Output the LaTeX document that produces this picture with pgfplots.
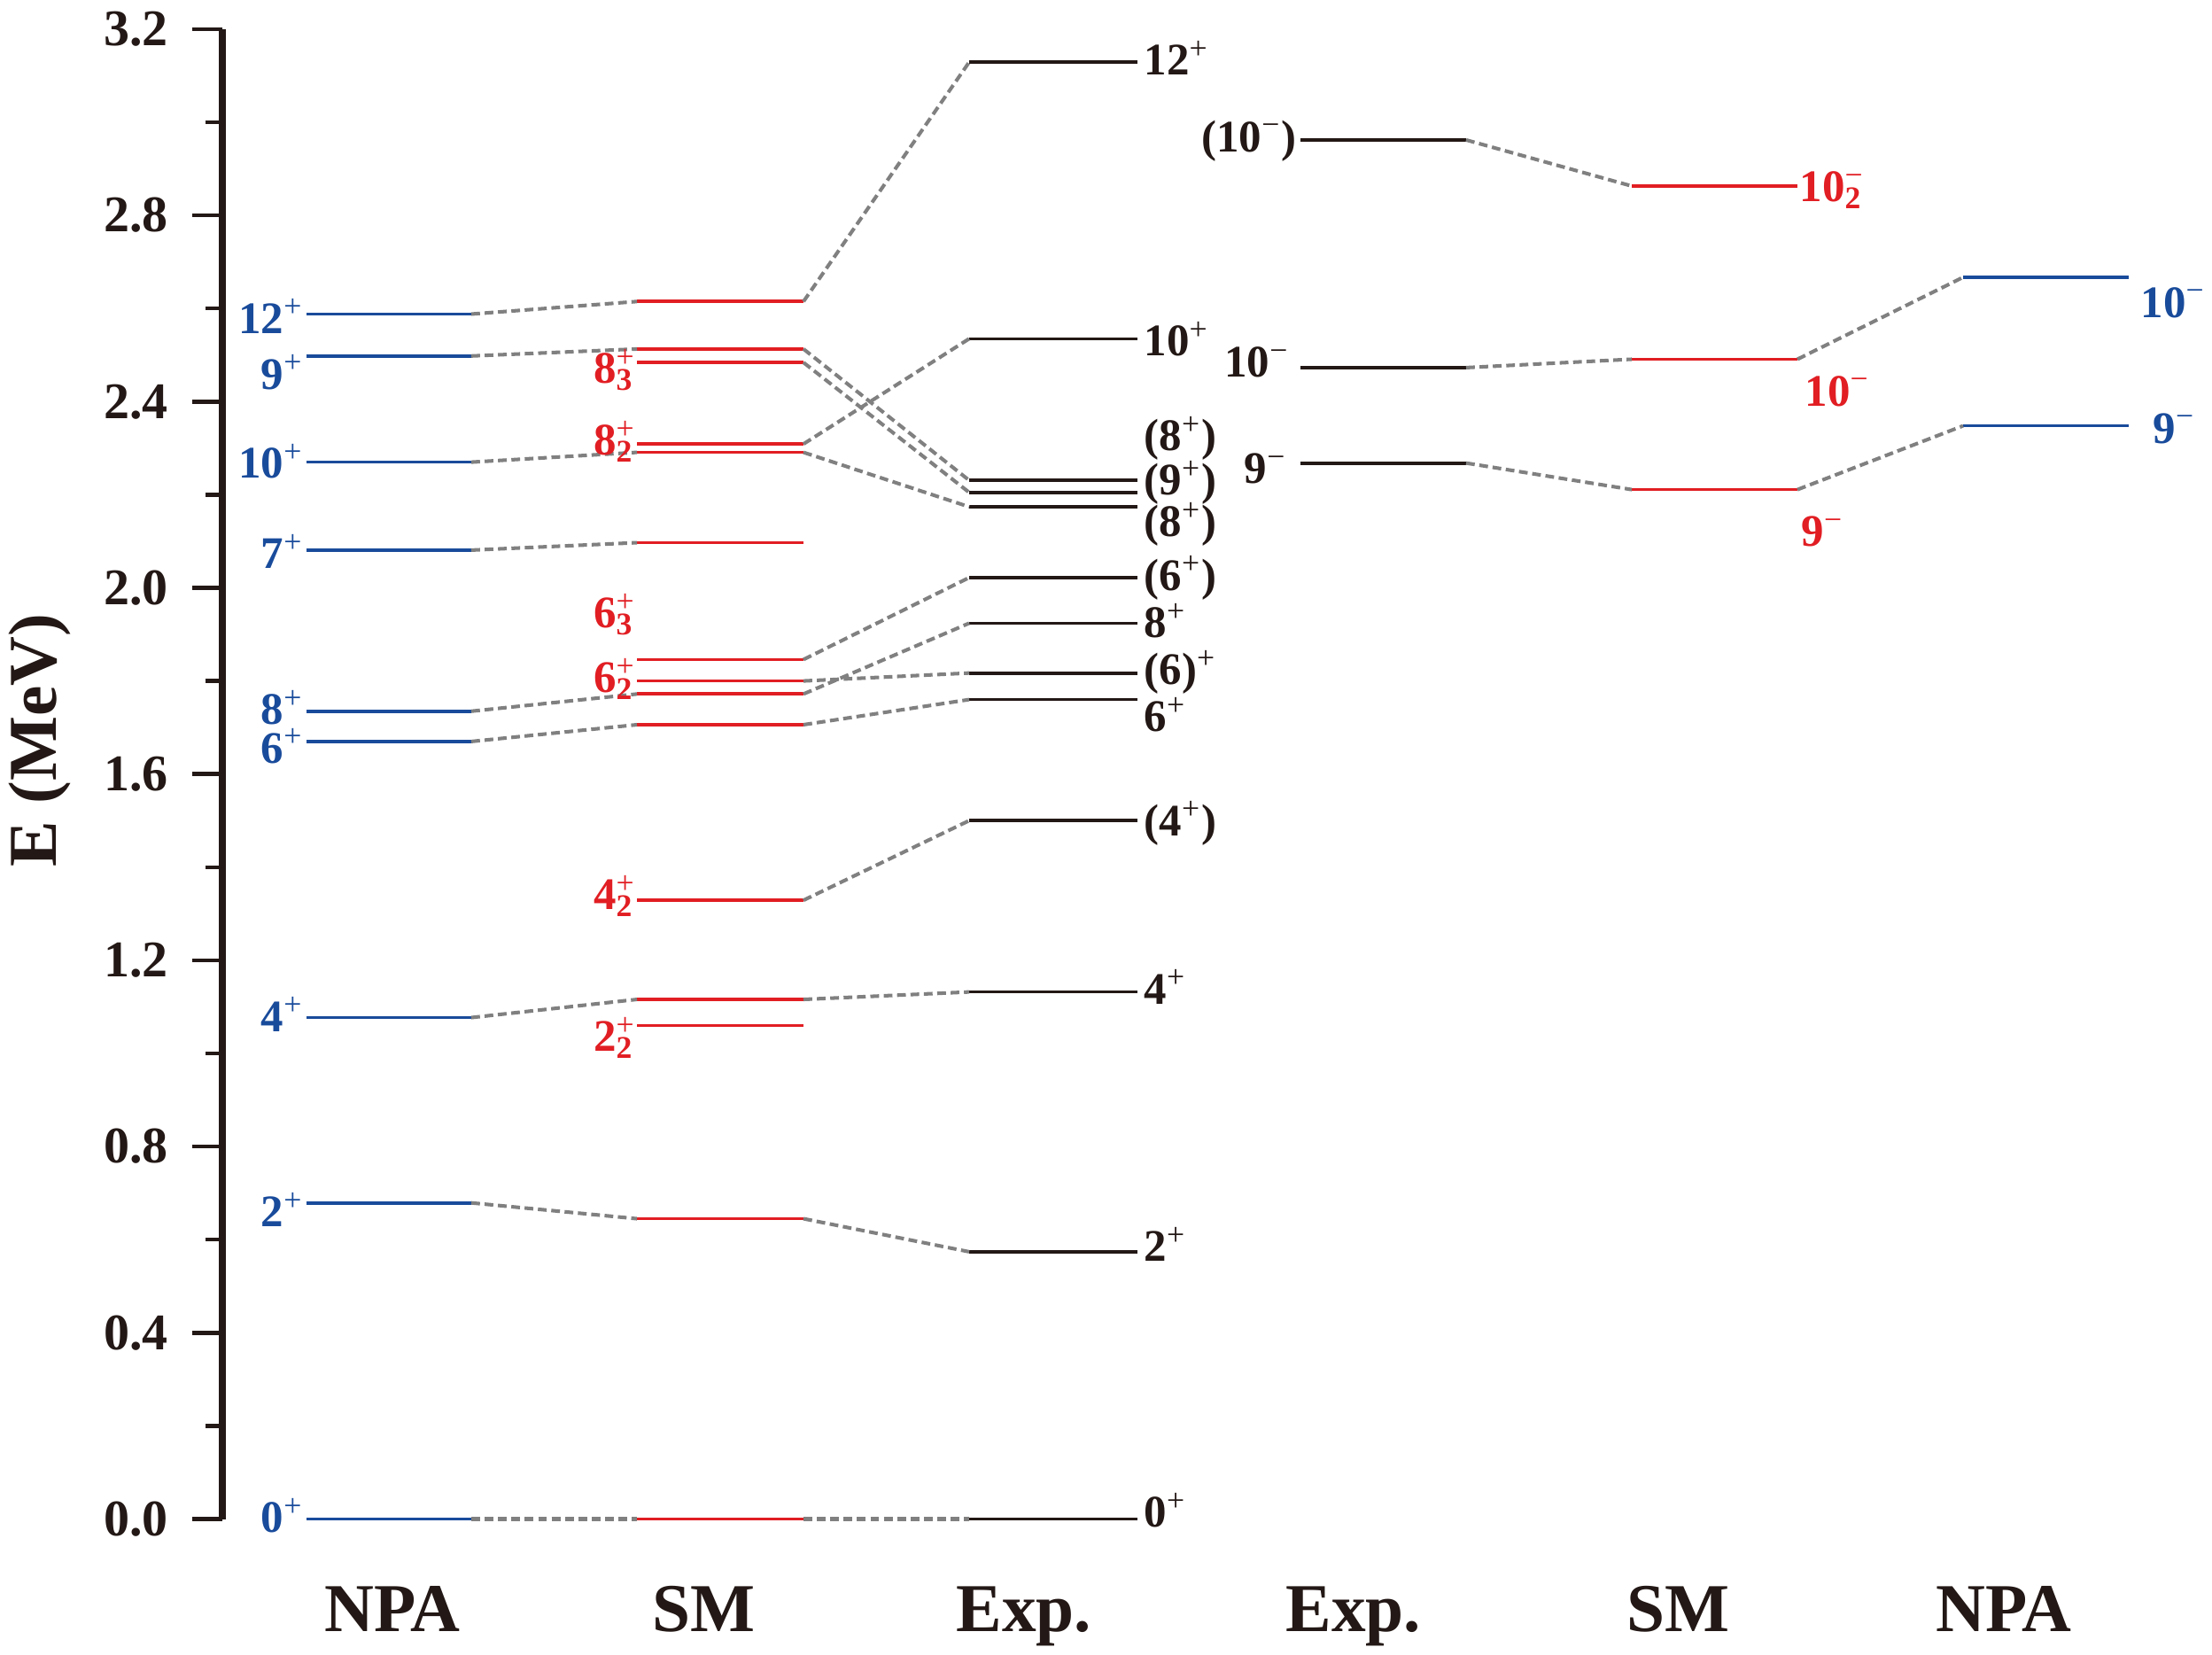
\documentclass[border=0pt]{standalone}
\usepackage{pgfplots}
\pgfplotsset{compat=1.18}
\usepackage{fontspec}
\setmainfont{Liberation Serif}
\definecolor{lvblue}{RGB}{25,75,155}
\definecolor{lvred}{RGB}{225,30,35}
\definecolor{lvblack}{RGB}{35,24,21}
\definecolor{lvgray}{RGB}{128,128,128}
\newcommand\sps[1]{\textsuperscript{\mdseries #1}}
\newcommand\lev[3]{#1\rlap{\textsuperscript{\mdseries #2}}\textsubscript{#3}}
\begin{document}
\begin{tikzpicture}[
  lab/.style={font=\fontsize{14.5}{16}\selectfont\bfseries, inner sep=0pt},
  cat/.style={font=\fontsize{22}{24}\selectfont\bfseries, inner sep=0pt, text=lvblack, anchor=base}]
\begin{axis}[
  scale only axis, width=22.46cm, height=16.816cm,
  xmin=251, xmax=2497, ymin=0, ymax=3.2, clip=false,
  axis y line=left, axis x line=none,
  axis line style={-, line width=2pt, lvblack},
  ytick={0,0.4,0.8,1.2,1.6,2.0,2.4,2.8,3.2}, minor y tick num=1,
  tick align=outside, major tick length=0.34cm, minor tick length=0.19cm,
  tick style={line width=1.3pt, color=lvblack},
  yticklabel style={font=\fontsize{16.5}{18}\selectfont\bfseries, text=lvblack, xshift=-0.15cm},
  /pgf/number format/.cd, fixed, fixed zerofill, precision=1, assume math mode=true,
]
% ---- levels ----
\pgfplotsset{lv/.style={line width=1.05pt}}
\pgfplotsinvokeforeach{0,0.679,1.077,1.670,1.735,2.081,2.270,2.498,2.588}{
  \addplot[lvblue, lv] coordinates {(346,#1) (532,#1)};}
\pgfplotsinvokeforeach{0,0.645,1.060,1.116,1.329,1.706,1.772,1.800,1.846,2.097,2.291,2.309,2.484,2.513,2.615}{
  \addplot[lvred, lv] coordinates {(719,#1) (907,#1)};}
\pgfplotsinvokeforeach{0,0.574,1.132,1.500,1.760,1.817,1.924,2.022,2.174,2.205,2.231,2.535,3.129}{
  \addplot[lvblack, lv] coordinates {(1094,#1) (1284,#1)};}
\pgfplotsinvokeforeach{2.268,2.473,2.962}{
  \addplot[lvblack, lv] coordinates {(1468,#1) (1655,#1)};}
\pgfplotsinvokeforeach{2.211,2.491,2.863}{
  \addplot[lvred, lv] coordinates {(1842,#1) (2029,#1)};}
\pgfplotsinvokeforeach{2.348,2.667}{
  \addplot[lvblue, lv] coordinates {(2216,#1) (2403,#1)};}
% ---- connectors ----
\pgfplotsset{conn/.style={lvgray, line width=1.15pt, dash pattern=on 2.8pt off 1.5pt}}
\addplot[conn] coordinates {(532,0) (719,0)};
\addplot[conn] coordinates {(532,0.679) (719,0.645)};
\addplot[conn] coordinates {(532,1.077) (719,1.116)};
\addplot[conn] coordinates {(532,1.670) (719,1.706)};
\addplot[conn] coordinates {(532,1.735) (719,1.772)};
\addplot[conn] coordinates {(532,2.081) (719,2.097)};
\addplot[conn] coordinates {(532,2.270) (719,2.291)};
\addplot[conn] coordinates {(532,2.498) (719,2.513)};
\addplot[conn] coordinates {(532,2.588) (719,2.615)};
\addplot[conn] coordinates {(907,0) (1094,0)};
\addplot[conn] coordinates {(907,0.645) (1094,0.574)};
\addplot[conn] coordinates {(907,1.116) (1094,1.132)};
\addplot[conn] coordinates {(907,1.329) (1094,1.500)};
\addplot[conn] coordinates {(907,1.706) (1094,1.760)};
\addplot[conn] coordinates {(907,1.772) (1094,1.924)};
\addplot[conn] coordinates {(907,1.800) (1094,1.817)};
\addplot[conn] coordinates {(907,1.846) (1094,2.022)};
\addplot[conn] coordinates {(907,2.291) (1094,2.174)};
\addplot[conn] coordinates {(907,2.309) (1094,2.535)};
\addplot[conn] coordinates {(907,2.484) (1094,2.205)};
\addplot[conn] coordinates {(907,2.513) (1094,2.231)};
\addplot[conn] coordinates {(907,2.615) (1094,3.129)};
\addplot[conn] coordinates {(1655,2.962) (1842,2.863)};
\addplot[conn] coordinates {(1655,2.473) (1842,2.491)};
\addplot[conn] coordinates {(1655,2.268) (1842,2.211)};
\addplot[conn] coordinates {(2029,2.491) (2216,2.667)};
\addplot[conn] coordinates {(2029,2.211) (2216,2.348)};
% ---- labels NPA (left) ----
\begin{scope}[every node/.style={lab, text=lvblue, anchor=base east}]
\node at (axis cs:343,2.547) {12\sps{+}};
\node at (axis cs:343,2.427) {9\sps{+}};
\node at (axis cs:343,2.236) {10\sps{+}};
\node at (axis cs:343,2.041) {7\sps{+}};
\node at (axis cs:343,1.706) {8\sps{+}};
\node at (axis cs:343,1.624) {6\sps{+}};
\node at (axis cs:343,1.047) {4\sps{+}};
\node at (axis cs:343,0.628) {2\sps{+}};
\node at (axis cs:343,-0.029) {0\sps{+}};
\end{scope}
% ---- labels SM (left) ----
\begin{scope}[every node/.style={lab, text=lvred, anchor=base east}]
\node at (axis cs:716,2.439) {\lev{8}{+}{3}};
\node at (axis cs:716,2.285) {\lev{8}{+}{2}};
\node at (axis cs:716,1.914) {\lev{6}{+}{3}};
\node at (axis cs:716,1.775) {\lev{6}{+}{2}};
\node at (axis cs:716,1.309) {\lev{4}{+}{2}};
\node at (axis cs:716,1.004) {\lev{2}{+}{2}};
\end{scope}
% ---- labels Exp (left block) ----
\begin{scope}[every node/.style={lab, text=lvblack, anchor=base west}]
\node at (axis cs:1291,3.101) {12\sps{+}};
\node at (axis cs:1291,2.498) {10\sps{+}};
\node at (axis cs:1291,2.294) {(8\sps{+})};
\node at (axis cs:1291,2.199) {(9\sps{+})};
\node at (axis cs:1291,2.110) {(8\sps{+})};
\node at (axis cs:1291,1.995) {(6\sps{+})};
\node at (axis cs:1291,1.893) {8\sps{+}};
\node at (axis cs:1291,1.792) {(6)\sps{+}};
\node at (axis cs:1291,1.691) {6\sps{+}};
\node at (axis cs:1291,1.468) {(4\sps{+})};
\node at (axis cs:1291,1.106) {4\sps{+}};
\node at (axis cs:1291,0.554) {2\sps{+}};
\node at (axis cs:1291,-0.018) {0\sps{+}};
\end{scope}
% ---- labels negative parity ----
\begin{scope}[every node/.style={lab, text=lvblack, anchor=base east}]
\node at (axis cs:1464,2.937) {(10\sps{−})};
\node at (axis cs:1456,2.453) {10\sps{−}};
\node at (axis cs:1453,2.224) {9\sps{−}};
\end{scope}
\begin{scope}[every node/.style={lab, text=lvred, anchor=base west}]
\node at (axis cs:2031,2.829) {\lev{10}{−}{2}};
\node at (axis cs:2037,2.391) {10\sps{−}};
\node at (axis cs:2033,2.089) {9\sps{−}};
\end{scope}
\begin{scope}[every node/.style={lab, text=lvblue, anchor=base west}]
\node at (axis cs:2416,2.581) {10\sps{−}};
\node at (axis cs:2430,2.311) {9\sps{−}};
\end{scope}
% ---- category labels ----
\node[cat] at (axis cs:443,-0.2426) {NPA};
\node[cat] at (axis cs:794,-0.2426) {SM};
\node[cat] at (axis cs:1156,-0.2426) {Exp.};
\node[cat] at (axis cs:1528,-0.2426) {Exp.};
\node[cat] at (axis cs:1894,-0.2426) {SM};
\node[cat] at (axis cs:2262,-0.2426) {NPA};
\node[font=\fontsize{22}{24}\selectfont\bfseries, text=lvblack, rotate=90, inner sep=0pt] at (axis cs:45,1.672) {E (MeV)};
\coordinate (BL) at (axis cs:0,-0.2921);
\coordinate (TR) at (axis cs:2497,3.2626);
\end{axis}
\pgfresetboundingbox
\useasboundingbox (BL) rectangle (TR);
\end{tikzpicture}
\end{document}
